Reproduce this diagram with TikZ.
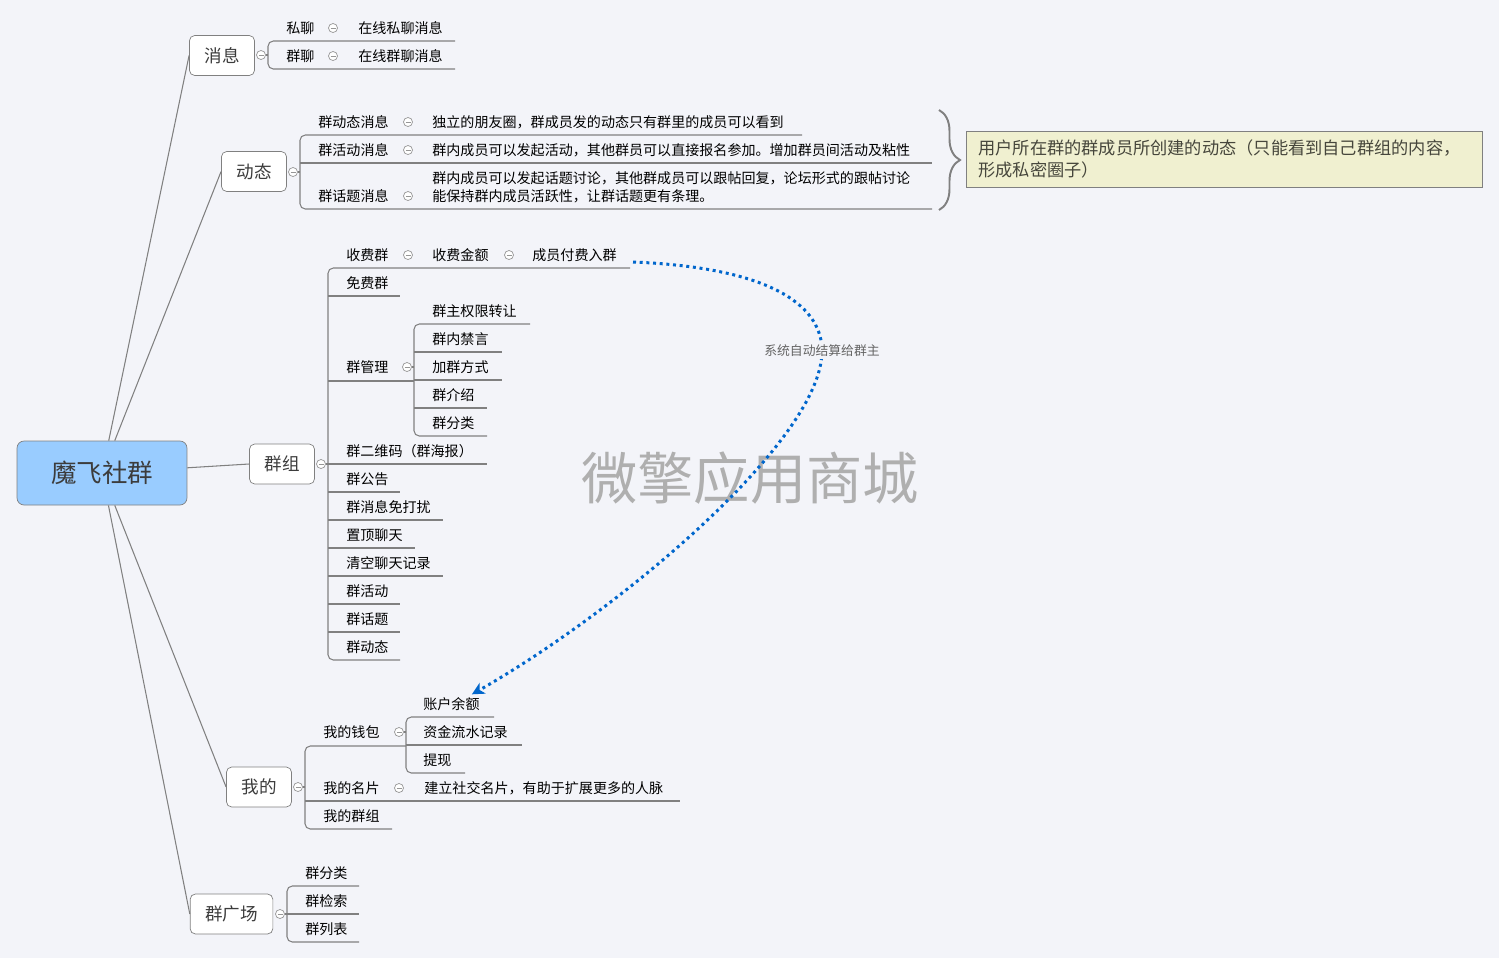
\documentclass[tikz,border=0pt]{standalone}
\usepackage{fontspec}
\setmainfont{Noto Sans CJK SC}
\usetikzlibrary{arrows.meta, calc, decorations.pathreplacing}
\definecolor{bgc}{RGB}{243,244,249}
\definecolor{rootblue}{RGB}{153,204,255}
\definecolor{linegray}{RGB}{128,128,128}
\definecolor{foldgray}{RGB}{150,150,150}
\definecolor{topictext}{RGB}{60,60,60}
\definecolor{notefill}{RGB}{240,240,208}
\definecolor{notetext}{RGB}{70,70,60}
\definecolor{paycolor}{RGB}{0,102,204}
\definecolor{marktext}{RGB}{175,175,175}
\definecolor{labeltext}{RGB}{100,100,100}
\tikzset{
    root/.style      = {draw=linegray, rectangle, rounded corners=4pt, fill=rootblue, minimum width=3.4cm, minimum height=1.28cm, text centered, font=\fontsize{14.5}{17}\selectfont, text=topictext},
    topic/.style     = {draw=linegray, rectangle, rounded corners=3pt, fill=white, inner xsep=0.3cm, minimum height=0.8cm, text centered, font=\fontsize{10}{12}\selectfont, text=topictext},
    leaf/.style      = {anchor=west, inner xsep=0pt, inner ysep=1pt, align=left, font=\fontsize{8}{10.2}\selectfont, text=black},
    fold/.style      = {circle, draw=foldgray, fill=white, minimum size=0.18cm, inner sep=0pt, path picture={\draw[foldgray] ([xshift=-0.05cm]path picture bounding box.center) -- ([xshift=0.05cm]path picture bounding box.center);}},
    branch/.style    = {draw=linegray, line width=0.6pt},
    trunk/.style     = {draw=linegray, line width=0.6pt, rounded corners=3pt},
    note/.style      = {draw=linegray, rectangle, fill=notefill, text width=9.84cm, align=left, inner xsep=0.24cm, minimum height=1.12cm, font=\fontsize{9.8}{12.5}\selectfont, text=notetext},
    paylink/.style   = {paycolor, line width=1.7pt, dash pattern=on 1.7pt off 2.1pt, -{Stealth[length=7pt,width=7pt,inset=2pt]}},
    paylabel/.style  = {fill=bgc, inner sep=1pt, font=\fontsize{7.3}{9}\selectfont, text=labeltext},
    watermark/.style = {font=\fontsize{32}{36}\selectfont, text=marktext},
}
\begin{document}
\begin{tikzpicture}[x=0.02cm, y=-0.02cm]
  \fill[bgc] (0,0) rectangle (1499,958);
  \node[watermark] (mark) at (750,478) {微擎应用商城};

  % root and main topics
  \node[root] (root) at (102,473) {魔飞社群};
  \node[topic] (xiaoxi) at (222,55.5) {消息};
  \node[topic] (dongtai) at (254,171.5) {动态};
  \node[topic] (qunzu) at (282,464) {群组};
  \node[topic] (wode) at (259,787) {我的};
  \node[topic] (guangchang) at (231.5,914) {群广场};
  \foreach \t in {xiaoxi, dongtai, qunzu, wode, guangchang}
    \draw[branch] (root) -- (\t.west);

  % 消息
  \draw[trunk] (455,41) -- (268,41) -- (268,69) -- (455,69);
  \node[fold] (xiaoxif) at (261,55) {};
  \draw[branch] (xiaoxif) -- (268,55);
  \node[leaf] (sl) at (286,28) {私聊};
  \node[fold] (slf) at (333,28) {};
  \node[leaf] (slmsg) at (358,28) {在线私聊消息};
  \node[leaf] (ql) at (286,56) {群聊};
  \node[fold] (qlf) at (333,56) {};
  \node[leaf] (qlmsg) at (358,56) {在线群聊消息};

  % 动态
  \draw[trunk] (802,135) -- (300,135) -- (300,209) -- (932,209);
  \draw[branch] (300,163) -- (932,163);
  \node[fold] (dongtaif) at (293,172) {};
  \draw[branch] (dongtaif) -- (300,172);
  \node[leaf] (qdt) at (318,122) {群动态消息};
  \node[fold] (qdtf) at (408,122) {};
  \node[leaf] (qdtn) at (432,122) {独立的朋友圈，群成员发的动态只有群里的成员可以看到};
  \node[leaf] (qhd) at (318,150) {群活动消息};
  \node[fold] (qhdf) at (408,150) {};
  \node[leaf] (qhdn) at (432,150) {群内成员可以发起活动，其他群员可以直接报名参加。增加群员间活动及粘性};
  \node[leaf] (qht) at (318,196) {群话题消息};
  \node[fold] (qhtf) at (408,196) {};
  \node[leaf] (qhtn) at (432,187) {群内成员可以发起话题讨论，其他群成员可以跟帖回复，论坛形式的跟帖讨论\\能保持群内成员活跃性，让群话题更有条理。};
  \draw[linegray, line width=1.1pt, decorate, decoration={brace, amplitude=0.42cm}] (939,110) -- (939,210);
  \node[note, anchor=north west] (note) at (966,131) {用户所在群的群成员所创建的动态（只能看到自己群组的内容，\\形成私密圈子）};

  % 群组
  \draw[trunk] (630,268) -- (328,268) -- (328,660) -- (400,660);
  \foreach \y/\x in {296/400, 381/414, 464/487, 492/400, 520/443, 548/415, 576/443, 604/400, 632/400}
    \draw[branch] (328,\y) -- (\x,\y);
  \draw[trunk] (530,324) -- (414,324) -- (414,436) -- (487,436);
  \foreach \y/\x in {352/502, 380/502, 408/487}
    \draw[branch] (414,\y) -- (\x,\y);
  \node[fold] (qunzuf) at (321,464) {};
  \draw[branch] (qunzuf) -- (328,464);
  \node[leaf] (sfq) at (346,255) {收费群};
  \node[fold] (sfqf) at (408,255) {};
  \node[leaf] (sfje) at (432,255) {收费金额};
  \node[fold] (sfjef) at (509,255) {};
  \node[leaf] (cyfr) at (532,255) {成员付费入群};
  \node[leaf] (mfq) at (346,283) {免费群};
  \node[leaf] (qgl) at (346,367) {群管理};
  \node[fold] (qglf) at (407,367) {};
  \draw[branch] (qglf) -- (414,367);
  \node[leaf] (qzzr) at (432,311) {群主权限转让};
  \node[leaf] (qnjy) at (432,339) {群内禁言};
  \node[leaf] (jqfs) at (432,367) {加群方式};
  \node[leaf] (qjs) at (432,395) {群介绍};
  \node[leaf] (qfl) at (432,423) {群分类};
  \node[leaf] (qewm) at (346,451) {群二维码（群海报）};
  \node[leaf] (qgg) at (346,479) {群公告};
  \node[leaf] (qxx) at (346,507) {群消息免打扰};
  \node[leaf] (zdlt) at (346,535) {置顶聊天};
  \node[leaf] (qklt) at (346,563) {清空聊天记录};
  \node[leaf] (qhd2) at (346,591) {群活动};
  \node[leaf] (qht2) at (346,619) {群话题};
  \node[leaf] (qdt2) at (346,647) {群动态};

  % 我的
  \draw[trunk] (406,746) -- (305,746) -- (305,829) -- (392,829);
  \draw[branch] (305,801) -- (680,801);
  \draw[trunk] (494,717) -- (406,717) -- (406,773) -- (465,773);
  \draw[branch] (406,745) -- (522,745);
  \node[fold] (wodef) at (298,787) {};
  \draw[branch] (wodef) -- (305,787);
  \node[leaf] (wdqb) at (323,732) {我的钱包};
  \node[fold] (wdqbf) at (399,732) {};
  \draw[branch] (wdqbf) -- (406,732);
  \node[leaf] (zhye) at (423,704) {账户余额};
  \node[leaf] (zjls) at (423,732) {资金流水记录};
  \node[leaf] (tx) at (423,760) {提现};
  \node[leaf] (wdmp) at (323,788) {我的名片};
  \node[fold] (wdmpf) at (399,788) {};
  \node[leaf] (jlmp) at (424,788) {建立社交名片，有助于扩展更多的人脉};
  \node[leaf] (wdqz) at (323,816) {我的群组};

  % 群广场
  \draw[trunk] (359,886) -- (287,886) -- (287,942) -- (359,942);
  \draw[branch] (287,914) -- (359,914);
  \node[fold] (guangchangf) at (280,914) {};
  \draw[branch] (guangchangf) -- (287,914);
  \node[leaf] (gcfl) at (305,873) {群分类};
  \node[leaf] (gcjs) at (305,901) {群检索};
  \node[leaf] (gclb) at (305,929) {群列表};

  % 付费 -> 账户余额
  \draw[paylink] ($(cyfr.east)+(16,7)$) .. controls (780,268) and (822,310) .. (822,351)
    node[paylabel] (paynote) {系统自动结算给群主}
    .. controls (822,440) and (620,610) .. ($(zhye.north east)+(-8,-1)$);
\end{tikzpicture}
\end{document}
